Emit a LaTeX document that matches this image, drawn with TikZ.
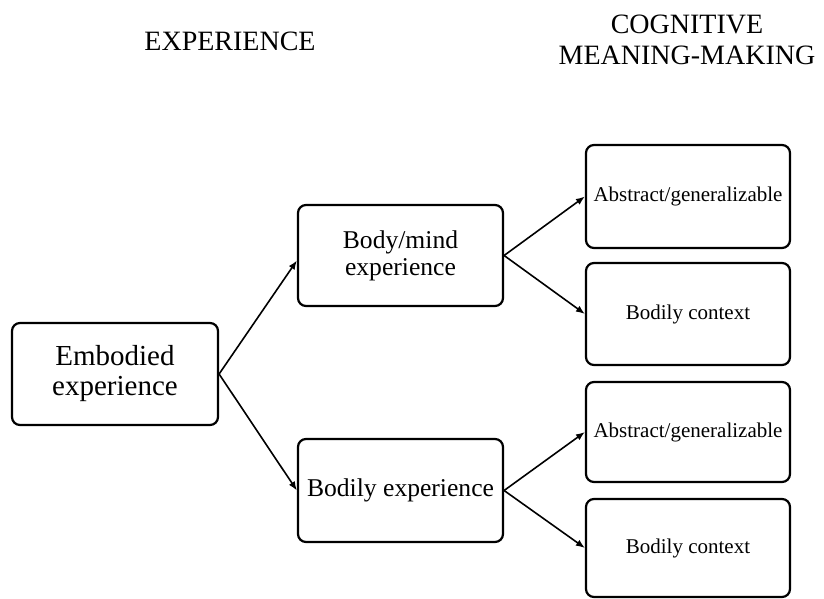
\documentclass[tikz,border=0pt]{standalone}
\usepackage{fontspec}
\setmainfont{Liberation Serif}
\usepackage{tikz}
\usetikzlibrary{arrows.meta}

\tikzset{
    box/.style={draw, line width=2.2pt, rounded corners=8pt, align=center, inner sep=0pt},
    link/.style={line width=1.6pt, -{Latex[length=9pt,width=7pt]}},
    headfont/.style={font=\fontsize{28}{31}\selectfont},
}

\begin{document}
\begin{tikzpicture}[x=1pt, y=-1pt]
    \useasboundingbox (0,0) rectangle (824,599);
    % headings
    \node[headfont] (hexp) at (230,41) {EXPERIENCE};
    \node[headfont, align=center] (hcog) at (687,40) {COGNITIVE\\MEANING-MAKING};
    % left column
    \node[box, font=\fontsize{29}{30}\selectfont, minimum width=206pt, minimum height=102pt] (emb) at (115,374)
        {Embodied\\experience};
    % middle column
    \node[box, font=\fontsize{25.6}{27}\selectfont, minimum width=205pt, minimum height=101pt] (bm) at (400.5,255.5)
        {Body/mind\\experience};
    \node[box, font=\fontsize{25.6}{27}\selectfont, minimum width=205pt, minimum height=103pt] (be) at (400.5,490.5)
        {Bodily experience};
    % right column
    \node[box, font=\fontsize{21}{24}\selectfont, minimum width=204pt, minimum height=103pt] (abs1) at (688,196.5)
        {Abstract/generalizable};
    \node[box, font=\fontsize{21}{24}\selectfont, minimum width=204pt, minimum height=102pt] (bc1) at (688,314)
        {Bodily context};
    \node[box, font=\fontsize{21}{24}\selectfont, minimum width=204pt, minimum height=100pt] (abs2) at (688,432)
        {Abstract/generalizable};
    \node[box, font=\fontsize{21}{24}\selectfont, minimum width=204pt, minimum height=98pt] (bc2) at (688,548)
        {Bodily context};
    % arrows
    \draw[link] (emb.east) -- ([yshift=-5pt]bm.west);
    \draw[link] (emb.east) -- (be.west);
    \draw[link] (bm.east) -- (abs1.west);
    \draw[link] (bm.east) -- (bc1.west);
    \draw[link] (be.east) -- (abs2.west);
    \draw[link] (be.east) -- (bc2.west);
\end{tikzpicture}
\end{document}
